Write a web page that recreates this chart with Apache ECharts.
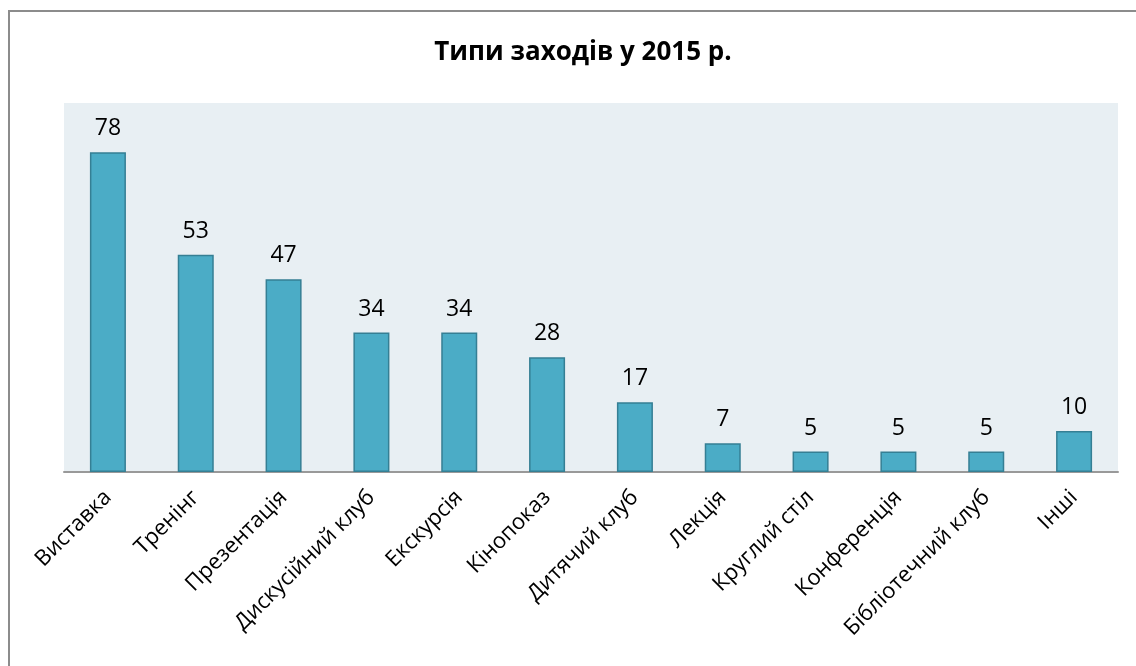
<!DOCTYPE html>
<html>
<head>
<meta charset="utf-8">
<script src="https://cdn.jsdelivr.net/npm/echarts@6/dist/echarts.min.js"></script>
<style>
  html, body { margin: 0; padding: 0; background: #fff; }
  #frame { position: absolute; left: 8px; top: 10px; width: 1200px; height: 700px; border: 2px solid #8c8c8c; box-sizing: border-box; pointer-events: none; }
  #chart { position: absolute; left: 0; top: 0; width: 1136px; height: 666px; }
</style>
</head>
<body>
<div id="chart"></div>
<div id="frame"></div>
<script>
// типи заходів
var categories = ['Виставка', 'Тренінг', 'Презентація', 'Дискусійний клуб', 'Екскурсія', 'Кінопоказ',
  'Дитячий клуб', 'Лекція', 'Круглий стіл', 'Конференція', 'Бібліотечний клуб', 'Інші'];
var values = [78, 53, 47, 34, 34, 28, 17, 7, 5, 5, 5, 10];

var chart = echarts.init(document.getElementById('chart'));
var option = {
  animation: false,
  title: {
    text: 'Типи заходів у 2015 р.',
    left: 578,
    textAlign: 'center',
    top: 35,
    textStyle: { fontFamily: 'Open Sans', fontSize: 26, fontWeight: 'bold', color: '#000' }
  },
  grid: {
    left: 64, top: 103, right: 18, bottom: 194,
    show: true, backgroundColor: '#e8eff3', borderWidth: 0
  },
  xAxis: {
    type: 'category',
    data: categories,
    axisLine: { lineStyle: { color: '#999', width: 2 } },
    axisTick: { show: false },
    axisLabel: {
      rotate: 45, interval: 0, margin: 22,
      fontFamily: 'Open Sans', fontSize: 22, color: '#000'
    }
  },
  yAxis: {
    type: 'value', min: 0, max: 90,
    show: false,
    splitLine: { show: false }
  },
  series: [{
    type: 'bar',
    data: values,
    barWidth: '41%',
    itemStyle: { color: '#4bacc6', borderColor: '#357f94', borderWidth: 1.5 },
    label: {
      show: true, position: 'top', distance: 12,
      fontFamily: 'Open Sans', fontSize: 23, color: '#000'
    }
  }]
};
chart.setOption(option);
</script>
</body>
</html>
